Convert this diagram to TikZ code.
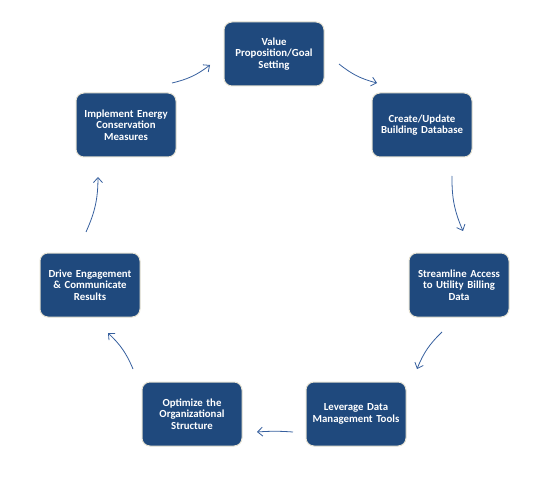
\documentclass[tikz,border=0pt]{standalone}
\usepackage{fontspec}
\setmainfont{Carlito}
\usetikzlibrary{arrows.meta}
\definecolor{boxblue}{HTML}{1F497D}
\definecolor{boxedge}{HTML}{E6E2D3}
\definecolor{arrowblue}{HTML}{365F9E}
\begin{document}
\begin{tikzpicture}[x=1pt,y=-1pt,
  stepbox/.style={draw=boxedge,line width=1pt,fill=boxblue,rounded corners=8pt,
    minimum width=100pt,minimum height=64pt,inner sep=2pt,text=white,
    font=\bfseries\fontsize{10.8}{11.3}\selectfont,align=center,text width=94pt},
  flow/.style={draw=arrowblue,line width=0.8pt,-{Straight Barb[length=5pt,width=9pt]},bend right=12}]
\useasboundingbox (0,0) rectangle (546,489);
\node[stepbox] (value) at (274,54) {Value\\Proposition/Goal\\Setting};
\node[stepbox] (create) at (422,125) {Create/Update\\Building Database};
\node[stepbox] (stream) at (459,285) {Streamline Access\\to Utility Billing\\Data};
\node[stepbox] (lever) at (356,414) {Leverage Data\\Management Tools};
\node[stepbox] (optim) at (192,414) {Optimize the\\Organizational\\Structure};
\node[stepbox] (drive) at (90,285) {Drive Engagement\\\& Communicate\\Results};
\node[stepbox] (impl) at (126,125) {Implement Energy\\Conservation\\Measures};
\coordinate (a1s) at (172,83); \coordinate (a1e) at (210,65);
\coordinate (a2s) at (339,64); \coordinate (a2e) at (377,83);
\coordinate (a3s) at (452,176); \coordinate (a3e) at (463,231);
\coordinate (a4s) at (442,332); \coordinate (a4e) at (417,369);
\coordinate (a5s) at (293,432); \coordinate (a5e) at (257,432);
\coordinate (a6s) at (133,369); \coordinate (a6e) at (108,333);
\coordinate (a7s) at (86,232); \coordinate (a7e) at (98,177);
\draw[flow] (a1s) to (a1e);
\draw[flow] (a2s) to (a2e);
\draw[flow] (a3s) to (a3e);
\draw[flow] (a4s) to (a4e);
\draw[flow,bend right=4] (a5s) to (a5e);
\draw[flow] (a6s) to (a6e);
\draw[flow] (a7s) to (a7e);
\end{tikzpicture}
\end{document}
